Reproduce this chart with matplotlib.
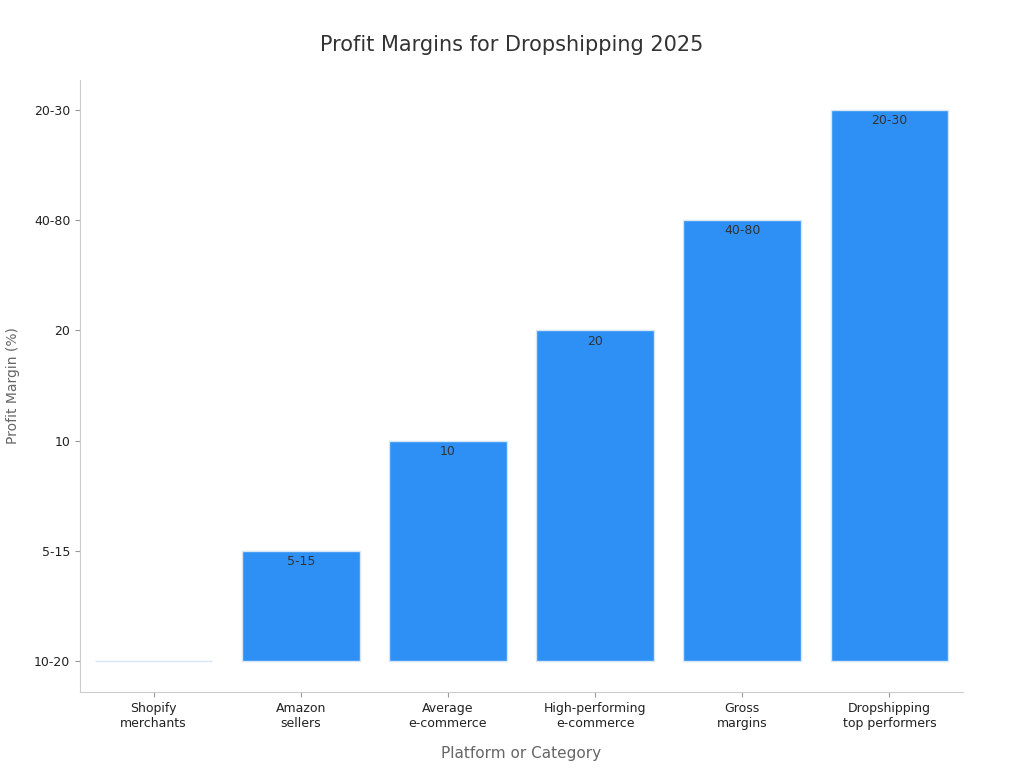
import matplotlib
matplotlib.use("Agg")
import matplotlib.pyplot as plt

categories = ["Shopify\nmerchants", "Amazon\nsellers", "Average\ne-commerce",
              "High-performing\ne-commerce", "Gross\nmargins", "Dropshipping\ntop performers"]
y_levels = ["10-20", "5-15", "10", "20", "40-80", "20-30"]
values = ["10-20", "5-15", "10", "20", "40-80", "20-30"]

fig = plt.figure(figsize=(10.24, 7.68), dpi=100)
ax = fig.add_axes([80/1024, 1-692/768, 883/1024, 612/768])
x = list(range(len(categories)))
heights = [y_levels.index(v) for v in values]
ax.bar(x, heights, width=0.8, color="#2E90F5", edgecolor="#D6E6F7", linewidth=1)
for xi, h, v in zip(x, heights, values):
    if h > 0:
        ax.text(xi, h - 0.04, v, ha="center", va="top", fontsize=9, color="#333333")
ax.set_xlim(-0.5, 5.5)
ax.set_ylim(-0.28, 5.27)
ax.set_xticks(x)
ax.set_xticklabels(categories, fontsize=9, color="#222222")
ax.set_yticks(range(len(y_levels)))
ax.set_yticklabels(y_levels, fontsize=9, color="#222222")
for s in ["top", "right"]:
    ax.spines[s].set_visible(False)
for s in ["left", "bottom"]:
    ax.spines[s].set_color("#CCCCCC")
ax.tick_params(colors="#999999", labelcolor="#222222")
ax.set_xlabel("Platform or Category", fontsize=11, color="#666666", labelpad=12)
ax.set_ylabel("Profit Margin (%)", fontsize=10, color="#666666", labelpad=10)
fig.suptitle("Profit Margins for Dropshipping 2025", fontsize=15, color="#333333", y=0.955)
fig.savefig("out.png", dpi=100)
